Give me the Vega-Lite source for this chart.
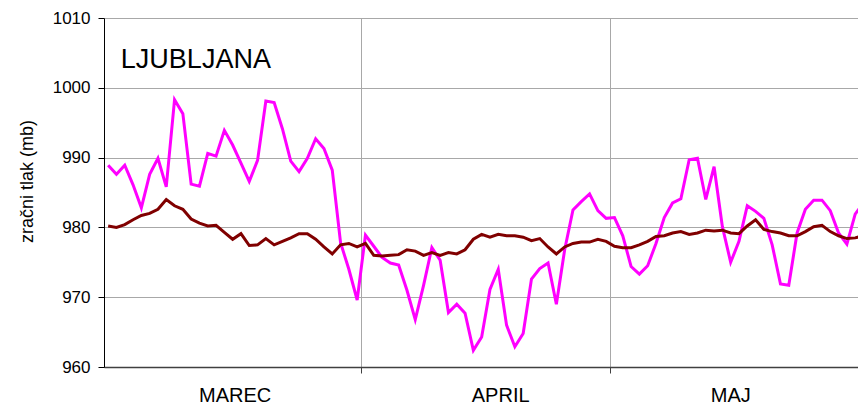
{
  "$schema": "https://vega.github.io/schema/vega-lite/v6.json",
  "width": 754,
  "height": 349,
  "autosize": "none",
  "padding": {"left": 104, "top": 18, "right": 0, "bottom": 36},
  "background": "white",
  "config": {
    "view": {"stroke": null},
    "font": "Liberation Sans",
    "axis": {"labelFont": "Liberation Sans", "titleFont": "Liberation Sans", "labelColor": "black", "titleColor": "black"}
  },
  "datasets": {
    "tlak": [
      {"d":0,"s":"dnevni","v":988.9},{"d":1,"s":"dnevni","v":987.6},{"d":2,"s":"dnevni","v":988.9},{"d":3,"s":"dnevni","v":986.1},
      {"d":4,"s":"dnevni","v":982.8},{"d":5,"s":"dnevni","v":987.6},{"d":6,"s":"dnevni","v":989.9},{"d":7,"s":"dnevni","v":985.8},
      {"d":8,"s":"dnevni","v":998.3},{"d":9,"s":"dnevni","v":996.3},{"d":10,"s":"dnevni","v":986.2},{"d":11,"s":"dnevni","v":985.9},
      {"d":12,"s":"dnevni","v":990.6},{"d":13,"s":"dnevni","v":990.2},{"d":14,"s":"dnevni","v":993.9},{"d":15,"s":"dnevni","v":991.8},
      {"d":16,"s":"dnevni","v":989.2},{"d":17,"s":"dnevni","v":986.6},{"d":18,"s":"dnevni","v":989.6},{"d":19,"s":"dnevni","v":998.1},
      {"d":20,"s":"dnevni","v":997.9},{"d":21,"s":"dnevni","v":994.1},{"d":22,"s":"dnevni","v":989.5},{"d":23,"s":"dnevni","v":988.0},
      {"d":24,"s":"dnevni","v":989.9},{"d":25,"s":"dnevni","v":992.7},{"d":26,"s":"dnevni","v":991.3},{"d":27,"s":"dnevni","v":988.2},
      {"d":28,"s":"dnevni","v":977.8},{"d":29,"s":"dnevni","v":974.0},{"d":30,"s":"dnevni","v":969.6},{"d":31,"s":"dnevni","v":978.9},
      {"d":32,"s":"dnevni","v":977.3},{"d":33,"s":"dnevni","v":975.7},{"d":34,"s":"dnevni","v":974.9},{"d":35,"s":"dnevni","v":974.6},
      {"d":36,"s":"dnevni","v":971.0},{"d":37,"s":"dnevni","v":966.8},{"d":38,"s":"dnevni","v":971.7},{"d":39,"s":"dnevni","v":977.1},
      {"d":40,"s":"dnevni","v":975.3},{"d":41,"s":"dnevni","v":967.8},{"d":42,"s":"dnevni","v":969.0},{"d":43,"s":"dnevni","v":967.7},
      {"d":44,"s":"dnevni","v":962.4},{"d":45,"s":"dnevni","v":964.3},{"d":46,"s":"dnevni","v":971.1},{"d":47,"s":"dnevni","v":974.0},
      {"d":48,"s":"dnevni","v":966.0},{"d":49,"s":"dnevni","v":962.9},{"d":50,"s":"dnevni","v":964.8},{"d":51,"s":"dnevni","v":972.6},
      {"d":52,"s":"dnevni","v":974.1},{"d":53,"s":"dnevni","v":974.9},{"d":54,"s":"dnevni","v":969.0},{"d":55,"s":"dnevni","v":976.8},
      {"d":56,"s":"dnevni","v":982.5},{"d":57,"s":"dnevni","v":983.7},{"d":58,"s":"dnevni","v":984.8},{"d":59,"s":"dnevni","v":982.4},
      {"d":60,"s":"dnevni","v":981.3},{"d":61,"s":"dnevni","v":981.4},{"d":62,"s":"dnevni","v":978.8},{"d":63,"s":"dnevni","v":974.4},
      {"d":64,"s":"dnevni","v":973.3},{"d":65,"s":"dnevni","v":974.5},{"d":66,"s":"dnevni","v":977.7},{"d":67,"s":"dnevni","v":981.4},
      {"d":68,"s":"dnevni","v":983.5},{"d":69,"s":"dnevni","v":984.1},{"d":70,"s":"dnevni","v":989.7},{"d":71,"s":"dnevni","v":989.9},
      {"d":72,"s":"dnevni","v":984.0},{"d":73,"s":"dnevni","v":988.7},{"d":74,"s":"dnevni","v":980.1},{"d":75,"s":"dnevni","v":975.0},
      {"d":76,"s":"dnevni","v":978.0},{"d":77,"s":"dnevni","v":983.1},{"d":78,"s":"dnevni","v":982.3},{"d":79,"s":"dnevni","v":981.3},
      {"d":80,"s":"dnevni","v":977.5},{"d":81,"s":"dnevni","v":971.9},{"d":82,"s":"dnevni","v":971.7},{"d":83,"s":"dnevni","v":979.2},
      {"d":84,"s":"dnevni","v":982.6},{"d":85,"s":"dnevni","v":983.9},{"d":86,"s":"dnevni","v":983.9},{"d":87,"s":"dnevni","v":982.4},
      {"d":88,"s":"dnevni","v":979.2},{"d":89,"s":"dnevni","v":977.6},{"d":90,"s":"dnevni","v":981.9},{"d":91,"s":"dnevni","v":983.5},
      {"d":0,"s":"povprecje","v":980.2},{"d":1,"s":"povprecje","v":980.0},{"d":2,"s":"povprecje","v":980.4},{"d":3,"s":"povprecje","v":981.1},
      {"d":4,"s":"povprecje","v":981.7},{"d":5,"s":"povprecje","v":982.0},{"d":6,"s":"povprecje","v":982.6},{"d":7,"s":"povprecje","v":984.0},
      {"d":8,"s":"povprecje","v":983.1},{"d":9,"s":"povprecje","v":982.6},{"d":10,"s":"povprecje","v":981.2},{"d":11,"s":"povprecje","v":980.6},
      {"d":12,"s":"povprecje","v":980.2},{"d":13,"s":"povprecje","v":980.3},{"d":14,"s":"povprecje","v":979.3},{"d":15,"s":"povprecje","v":978.3},
      {"d":16,"s":"povprecje","v":979.1},{"d":17,"s":"povprecje","v":977.4},{"d":18,"s":"povprecje","v":977.5},{"d":19,"s":"povprecje","v":978.4},
      {"d":20,"s":"povprecje","v":977.5},{"d":21,"s":"povprecje","v":978.0},{"d":22,"s":"povprecje","v":978.5},{"d":23,"s":"povprecje","v":979.1},
      {"d":24,"s":"povprecje","v":979.1},{"d":25,"s":"povprecje","v":978.3},{"d":26,"s":"povprecje","v":977.2},{"d":27,"s":"povprecje","v":976.2},
      {"d":28,"s":"povprecje","v":977.5},{"d":29,"s":"povprecje","v":977.7},{"d":30,"s":"povprecje","v":977.2},{"d":31,"s":"povprecje","v":977.7},
      {"d":32,"s":"povprecje","v":976.0},{"d":33,"s":"povprecje","v":975.9},{"d":34,"s":"povprecje","v":976.0},{"d":35,"s":"povprecje","v":976.1},
      {"d":36,"s":"povprecje","v":976.8},{"d":37,"s":"povprecje","v":976.6},{"d":38,"s":"povprecje","v":976.0},{"d":39,"s":"povprecje","v":976.4},
      {"d":40,"s":"povprecje","v":976.0},{"d":41,"s":"povprecje","v":976.4},{"d":42,"s":"povprecje","v":976.2},{"d":43,"s":"povprecje","v":976.8},
      {"d":44,"s":"povprecje","v":978.3},{"d":45,"s":"povprecje","v":979.0},{"d":46,"s":"povprecje","v":978.6},{"d":47,"s":"povprecje","v":979.0},
      {"d":48,"s":"povprecje","v":978.8},{"d":49,"s":"povprecje","v":978.8},{"d":50,"s":"povprecje","v":978.6},{"d":51,"s":"povprecje","v":978.1},
      {"d":52,"s":"povprecje","v":978.4},{"d":53,"s":"povprecje","v":977.2},{"d":54,"s":"povprecje","v":976.2},{"d":55,"s":"povprecje","v":977.2},
      {"d":56,"s":"povprecje","v":977.7},{"d":57,"s":"povprecje","v":977.9},{"d":58,"s":"povprecje","v":977.9},{"d":59,"s":"povprecje","v":978.3},
      {"d":60,"s":"povprecje","v":978.0},{"d":61,"s":"povprecje","v":977.3},{"d":62,"s":"povprecje","v":977.1},{"d":63,"s":"povprecje","v":977.1},
      {"d":64,"s":"povprecje","v":977.5},{"d":65,"s":"povprecje","v":978.0},{"d":66,"s":"povprecje","v":978.7},{"d":67,"s":"povprecje","v":978.8},
      {"d":68,"s":"povprecje","v":979.2},{"d":69,"s":"povprecje","v":979.4},{"d":70,"s":"povprecje","v":979.0},{"d":71,"s":"povprecje","v":979.2},
      {"d":72,"s":"povprecje","v":979.6},{"d":73,"s":"povprecje","v":979.5},{"d":74,"s":"povprecje","v":979.6},{"d":75,"s":"povprecje","v":979.2},
      {"d":76,"s":"povprecje","v":979.1},{"d":77,"s":"povprecje","v":980.2},{"d":78,"s":"povprecje","v":981.1},{"d":79,"s":"povprecje","v":979.7},
      {"d":80,"s":"povprecje","v":979.4},{"d":81,"s":"povprecje","v":979.2},{"d":82,"s":"povprecje","v":978.8},{"d":83,"s":"povprecje","v":978.8},
      {"d":84,"s":"povprecje","v":979.4},{"d":85,"s":"povprecje","v":980.1},{"d":86,"s":"povprecje","v":980.3},{"d":87,"s":"povprecje","v":979.4},
      {"d":88,"s":"povprecje","v":978.8},{"d":89,"s":"povprecje","v":978.4},{"d":90,"s":"povprecje","v":978.5},{"d":91,"s":"povprecje","v":978.8}
    ],
    "naslov": [{"mesto": "LJUBLJANA"}]
  },
  "layer": [
    {
      "data": {"name": "tlak"},
      "mark": {"type": "line", "strokeWidth": 3, "clip": true, "strokeJoin": "miter"},
      "encoding": {
        "x": {
          "field": "d", "type": "quantitative",
          "scale": {"domain": [-0.5, 90.34], "nice": false, "zero": false},
          "axis": {
            "title": null,
            "values": [-0.5, 15.24, 30.5, 47.23, 60.5, 74.96],
            "labelExpr": "datum.value == 15.24 ? 'MAREC' : datum.value == 47.23 ? 'APRIL' : datum.value == 74.96 ? 'MAJ' : ''",
            "labelFontSize": 20,
            "labelPadding": 12,
            "labelBaseline": "top",
            "labelFlush": false,
            "labelOverlap": false,
            "tickSize": 6,
            "tickColor": "#404040",
            "tickOpacity": {"condition": {"test": "datum.value == 30.5 || datum.value == 60.5", "value": 1}, "value": 0},
            "grid": true,
            "gridColor": "#a8a8a8",
            "gridOpacity": {"condition": {"test": "datum.value == 30.5 || datum.value == 60.5", "value": 1}, "value": 0},
            "domainColor": "#404040",
            "domainWidth": 1.5
          }
        },
        "y": {
          "field": "v", "type": "quantitative",
          "scale": {"domain": [960, 1010], "nice": false, "zero": false},
          "axis": {
            "title": "zračni tlak (mb)",
            "titleFontSize": 18,
            "titleFontWeight": "normal",
            "titleBaseline": "alphabetic",
            "titleX": -72,
            "titleY": 163,
            "titleAlign": "center",
            "values": [960, 970, 980, 990, 1000, 1010],
            "format": "d",
            "labelFontSize": 17,
            "labelPadding": 8,
            "tickSize": 6,
            "tickColor": "black",
            "domainColor": "black",
            "grid": true,
            "gridColor": "#a8a8a8"
          }
        },
        "color": {
          "field": "s", "type": "nominal",
          "scale": {"domain": ["dnevni", "povprecje"], "range": ["#ff00ff", "#800000"]},
          "legend": null
        }
      }
    },
    {
      "data": {"name": "naslov"},
      "mark": {"type": "text", "font": "Liberation Sans", "fontSize": 27, "align": "left", "baseline": "alphabetic", "color": "black"},
      "encoding": {
        "x": {"datum": 1.53, "type": "quantitative"},
        "y": {"datum": 1002.88, "type": "quantitative"},
        "text": {"field": "mesto", "type": "nominal"}
      }
    }
  ]
}
